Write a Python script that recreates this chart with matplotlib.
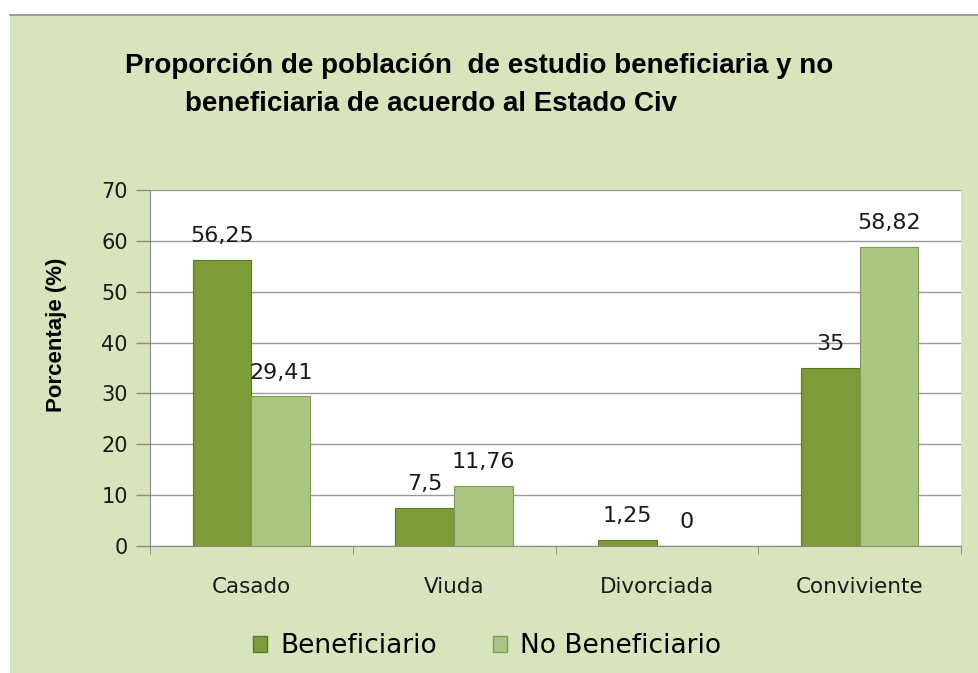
import numpy as np
import matplotlib.pyplot as plt
from matplotlib.patches import Rectangle, Patch
from matplotlib.lines import Line2D

categorias = ['Casado', 'Viuda', 'Divorciada', 'Conviviente']
beneficiario = [56.25, 7.5, 1.25, 35]
no_beneficiario = [29.41, 11.76, 0, 58.82]
etq_ben = ['56,25', '7,5', '1,25', '35']
etq_noben = ['29,41', '11,76', '0', '58,82']
yticks = [0, 10, 20, 30, 40, 50, 60, 70]

fondo = '#d8e4bc'
c_ben = '#7d9c37'
c_noben = '#abc682'
titulo_font = ['Liberation Sans', 'DejaVu Sans']

fig = plt.figure(figsize=(9.79, 6.73), dpi=100, facecolor='white')

# green background panel with grey top line
fig.patches.append(Rectangle((10 / 979, 0), 1, 1 - 15 / 673, transform=fig.transFigure,
                             facecolor=fondo, edgecolor='none', zorder=-5))
fig.add_artist(Line2D([10 / 979, 1], [1 - 15 / 673, 1 - 15 / 673], transform=fig.transFigure,
                      color='#8a8a8a', lw=1.2, zorder=-4))

ax = fig.add_axes([150 / 979, 1 - 546 / 673, 811 / 979, 356 / 673])
ax.set_zorder(2)
ax.set_facecolor('white')

x = np.arange(len(categorias))
w = 0.29
ax.bar(x - w / 2, beneficiario, w, color=c_ben, edgecolor='#5b7a25', linewidth=0.8, zorder=3)
ax.bar(x + w / 2, no_beneficiario, w, color=c_noben, edgecolor='#7f9a5a', linewidth=0.8, zorder=3)

for xi, v, t in zip(x - w / 2, beneficiario, etq_ben):
    ax.annotate(t, (xi, v), xytext=(0, 10), textcoords='offset points', ha='center', va='bottom',
                fontsize=16, color='#1a1a1a')
for xi, v, t in zip(x + w / 2, no_beneficiario, etq_noben):
    ax.annotate(t, (xi, v), xytext=(0, 10), textcoords='offset points', ha='center', va='bottom',
                fontsize=16, color='#1a1a1a')

ax.set_xlim(-0.5, len(categorias) - 0.5)
ax.set_ylim(0, 70)
ax.set_yticks(yticks)
ax.yaxis.grid(True, color='#9a9a9a', lw=1)
ax.set_axisbelow(True)
ax.tick_params(axis='y', length=10, width=1, color='#8a8a8a', labelsize=15, labelcolor='#1a1a1a', pad=6)
ax.set_xticks(x)
ax.set_xticklabels(categorias)
ax.tick_params(axis='x', length=0, labelsize=15.5, labelcolor='#1a1a1a', pad=22)
ax.set_xticks(np.arange(len(categorias) + 1) - 0.5, minor=True)
ax.tick_params(axis='x', which='minor', length=6, color='#8a8a8a')
for s in ['top', 'right']:
    ax.spines[s].set_visible(False)
for s in ['left', 'bottom']:
    ax.spines[s].set_color('#8a8a8a')

fig.text(57 / 979, 1 - 335 / 673, 'Porcentaje (%)', rotation=90, ha='center', va='center',
         fontsize=16, fontweight='bold', family=titulo_font)

fig.text(125 / 979, 1 - 66 / 673, 'Proporción de población  de estudio beneficiaria y no',
         ha='left', va='center', fontsize=20, fontweight='bold', family=titulo_font)
fig.text(185 / 979, 1 - 104 / 673, 'beneficiaria de acuerdo al Estado Civ',
         ha='left', va='center', fontsize=20, fontweight='bold', family=titulo_font)

handles = [Patch(facecolor=c_ben, edgecolor='#5b7a25'), Patch(facecolor=c_noben, edgecolor='#7f9a5a')]
fig.legend(handles, ['Beneficiario', 'No Beneficiario'], loc='center', bbox_to_anchor=(487 / 979, 1 - 646 / 673),
           ncol=2, frameon=False, fontsize=19, handlelength=0.55, handleheight=0.55, handletextpad=0.5,
           columnspacing=2.1)

fig.savefig('out.png', dpi=100, facecolor='white')
